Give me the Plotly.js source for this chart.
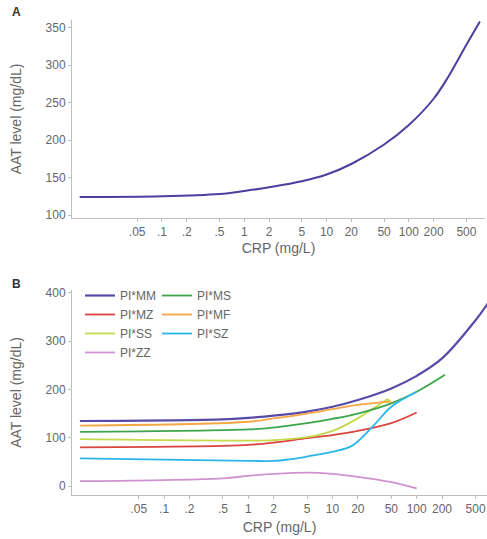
<!DOCTYPE html>
<html>
<head>
<meta charset="utf-8">
<script src="https://cdn.plot.ly/plotly-3.0.1.min.js"></script>
<style>html,body{margin:0;padding:0;background:#fff;}#chart{width:487px;height:539px;}</style>
</head>
<body>
<div id="chart"></div>
<script>
// Panel A: overall AAT vs CRP
const crpA = [0.01, 0.1, 0.5, 1, 2, 5, 10, 20, 50, 100, 200, 300, 500, 730];
const aatA = [124, 125, 128, 132, 137, 145, 154, 168, 194, 220, 255, 284, 327, 358];

// Panel B: by genotype
const crpMM = [0.01, 0.5, 1, 2, 5, 10, 20, 50, 100, 200, 500, 700];
const aatMM = [134.5, 138, 141, 145.5, 154, 164, 178, 202, 228, 264, 343, 378];
const crpMF = [0.01, 1, 2, 5, 10, 20, 50];
const aatMF = [125, 133, 140, 150, 159, 168, 174.5];
const crpMS = [0.01, 1, 2, 5, 10, 20, 50, 100, 217];
const aatMS = [112, 117, 121, 130, 139, 150, 171, 195, 230];
const crpSS = [0.01, 1, 2, 5, 10, 20, 40, 45, 48];
const aatSS = [97, 94, 95, 101, 114, 140, 174, 179, 176];
const crpMZ = [0.01, 0.5, 1, 2, 5, 10, 20, 50, 100];
const aatMZ = [80, 83, 85, 90, 99, 105.5, 114, 130, 152];
const crpSZ = [0.01, 1, 2, 3, 5, 10, 17, 30, 50, 100];
const aatSZ = [57, 52, 52, 55, 61, 71, 83, 123, 164, 195];
const crpZZ = [0.01, 0.5, 1, 2, 5, 10, 20, 50, 100];
const aatZZ = [10, 16, 21, 25, 27.5, 25, 19, 8, -5];

const xTickVals = [0.05, 0.1, 0.2, 0.5, 1, 2, 5, 10, 20, 50, 100, 200, 500];
const xTickText = ['.05', '.1', '.2', '.5', '1', '2', '5', '10', '20', '50', '100', '200', '500'];
const yTicksA = [100, 150, 200, 250, 300, 350];
const yTicksB = [0, 100, 200, 300, 400];

const FONT = 'Liberation Sans, Arial, sans-serif';
const W = 487, H = 539;

const traces = [
  {x: crpA, y: aatA, xaxis: 'x', yaxis: 'y', name: 'All', mode: 'lines', line: {color: '#4a3f9e', width: 2, shape: 'spline', smoothing: 1}, showlegend: false},
  {x: crpMM, y: aatMM, xaxis: 'x2', yaxis: 'y2', name: 'PI*MM', mode: 'lines', line: {color: '#5a4aa8', width: 2.2, shape: 'spline'}, legend: 'legend'},
  {x: crpMZ, y: aatMZ, xaxis: 'x2', yaxis: 'y2', name: 'PI*MZ', mode: 'lines', line: {color: '#d9443f', width: 1.8, shape: 'spline'}, legend: 'legend'},
  {x: crpSS, y: aatSS, xaxis: 'x2', yaxis: 'y2', name: 'PI*SS', mode: 'lines', line: {color: '#c5d94c', width: 1.8, shape: 'spline'}, legend: 'legend'},
  {x: crpZZ, y: aatZZ, xaxis: 'x2', yaxis: 'y2', name: 'PI*ZZ', mode: 'lines', line: {color: '#cf93cf', width: 1.8, shape: 'spline'}, legend: 'legend'},
  {x: crpMS, y: aatMS, xaxis: 'x2', yaxis: 'y2', name: 'PI*MS', mode: 'lines', line: {color: '#3ea54c', width: 1.8, shape: 'spline'}, legend: 'legend2'},
  {x: crpMF, y: aatMF, xaxis: 'x2', yaxis: 'y2', name: 'PI*MF', mode: 'lines', line: {color: '#f7a645', width: 1.8, shape: 'spline'}, legend: 'legend2'},
  {x: crpSZ, y: aatSZ, xaxis: 'x2', yaxis: 'y2', name: 'PI*SZ', mode: 'lines', line: {color: '#2bb6ea', width: 1.8, shape: 'spline'}, legend: 'legend2'}
];

const axisCommon = {
  showgrid: false, zeroline: false, showline: true, linecolor: '#bdbdbd', linewidth: 1,
  ticks: 'outside', ticklen: 3, tickcolor: '#bdbdbd', tickwidth: 1,
  tickfont: {family: FONT, size: 12, color: '#666'}
};

const legendCommon = {
  orientation: 'v', bgcolor: 'rgba(0,0,0,0)', borderwidth: 0,
  font: {family: FONT, size: 12, color: '#666'},
  xanchor: 'left', yanchor: 'top', yref: 'paper', xref: 'paper', tracegroupgap: 0
};

const layout = {
  width: W, height: H,
  margin: {l: 0, r: 0, t: 0, b: 0},
  paper_bgcolor: '#fff', plot_bgcolor: '#fff',
  showlegend: true,
  xaxis: Object.assign({}, axisCommon, {
    type: 'log', domain: [72 / W, 485 / W], range: [-2.093, 2.925], anchor: 'y',
    tickvals: xTickVals, ticktext: xTickText,
    title: {text: 'CRP (mg/L)', font: {family: FONT, size: 14, color: '#666'}, standoff: 4}
  }),
  yaxis: Object.assign({}, axisCommon, {
    domain: [1 - 218 / H, 1 - 20 / H], range: [96, 360], anchor: 'x',
    tickvals: yTicksA,
    title: {text: 'AAT level (mg/dL)', font: {family: FONT, size: 14, color: '#666'}, standoff: 20}
  }),
  xaxis2: Object.assign({}, axisCommon, {
    type: 'log', domain: [72 / W, 1], range: [-2.094, 2.835], anchor: 'y2',
    tickvals: xTickVals, ticktext: xTickText,
    title: {text: 'CRP (mg/L)', font: {family: FONT, size: 14, color: '#666'}, standoff: 6}
  }),
  yaxis2: Object.assign({}, axisCommon, {
    domain: [1 - 495 / H, 1 - 290 / H], range: [-18.6, 405.6], anchor: 'x2',
    tickvals: yTicksB,
    title: {text: 'AAT level (mg/dL)', font: {family: FONT, size: 14, color: '#666'}, standoff: 20}
  }),
  legend: Object.assign({}, legendCommon, {x: 80 / W, y: 1 - 281 / H}),
  legend2: Object.assign({}, legendCommon, {x: 157 / W, y: 1 - 281 / H}),
  annotations: [
    {text: '<b>A</b>', xref: 'paper', yref: 'paper', x: 10 / W, y: 1 - 12 / H, xanchor: 'left', yanchor: 'middle', showarrow: false, font: {family: FONT, size: 12, color: '#333'}},
    {text: '<b>B</b>', xref: 'paper', yref: 'paper', x: 10 / W, y: 1 - 284 / H, xanchor: 'left', yanchor: 'middle', showarrow: false, font: {family: FONT, size: 12, color: '#333'}}
  ]
};

Plotly.newPlot('chart', traces, layout, {displayModeBar: false, staticPlot: true});
</script>
</body>
</html>
